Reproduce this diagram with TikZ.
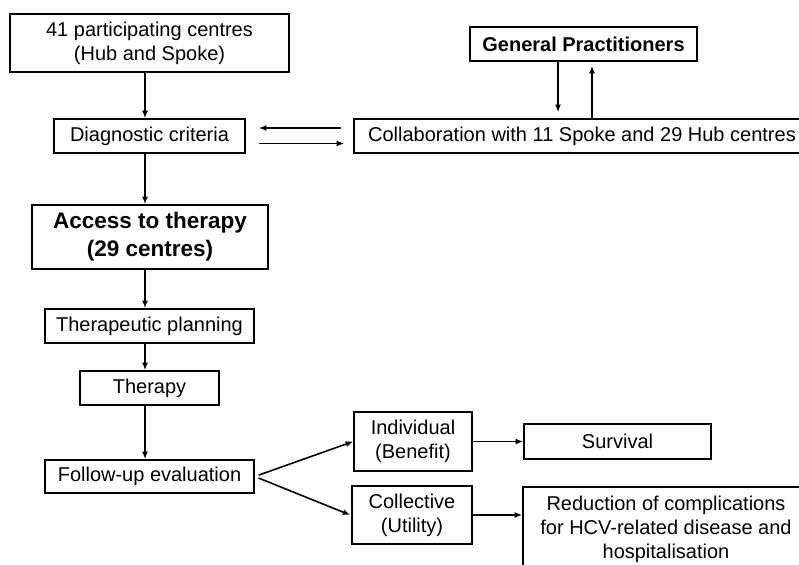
\documentclass[tikz,border=0pt]{standalone}
\usepackage{fontspec}
\setmainfont{Liberation Sans}
\usetikzlibrary{arrows.meta}
\begin{document}
\begin{tikzpicture}[x=1pt,y=-1pt,line width=1.6pt,>={Latex[length=7.5pt,width=6pt]},
	box/.style={draw,align=center,inner sep=0pt,font=\fontsize{20}{24}\selectfont},
	bigbox/.style={box,font=\fontsize{22.5}{28}\selectfont\bfseries}]
	\useasboundingbox (0,0) rectangle (799,564);
	\clip (0,0) rectangle (799,564);
	% left column
	\node[box,minimum width=279pt,minimum height=58pt] (centres) at (149.5,43) {41 participating centres\\(Hub and Spoke)};
	\node[box,minimum width=191pt,minimum height=34pt] (diag) at (149.5,136) {Diagnostic criteria};
	\node[bigbox,minimum width=236pt,minimum height=64pt] (access) at (150,237) {Access to therapy\\(29 centres)};
	\node[box,minimum width=209pt,minimum height=34pt] (plan) at (149.5,326) {Therapeutic planning};
	\node[box,minimum width=139pt,minimum height=34pt] (therapy) at (149.5,388) {Therapy};
	\node[box,minimum width=209pt,minimum height=33pt] (follow) at (149.5,476.5) {Follow-up evaluation};
	% right part
	\node[box,minimum width=456pt,minimum height=34pt] (collab) at (582,136) {Collaboration with 11 Spoke and 29 Hub centres};
	\node[box,font=\fontsize{20}{24}\selectfont\bfseries,minimum width=227pt,minimum height=34pt] (gp) at (583.5,44) {General Practitioners};
	\node[box,minimum width=118pt,minimum height=59pt] (indiv) at (413,441.5) {Individual\\(Benefit)};
	\node[box,minimum width=120pt,minimum height=58pt] (coll) at (412,515) {Collective\\(Utility)};
	\node[box,minimum width=187pt,minimum height=35pt] (surv) at (617.5,441.5) {Survival};
	\node[box,anchor=north,minimum width=286pt,inner ysep=9.5pt] (reduc) at (666,486) {Reduction of complications\\for HCV-related disease and\\hospitalisation};
	% connectors
	\draw[->] ([xshift=-4.5pt]centres.south) -- ([xshift=-4.5pt]diag.north);
	\draw[->] ([xshift=-4.5pt]diag.south) -- ([xshift=-5pt]access.north);
	\draw[->] ([xshift=-5pt]access.south) -- ([xshift=-4.5pt]plan.north);
	\draw[->] ([xshift=-4.5pt]plan.south) -- ([xshift=-4.5pt]therapy.north);
	\draw[->] ([xshift=-4.5pt]therapy.south) -- ([xshift=-4.5pt]follow.north);
	\draw[->] ([xshift=-12pt,yshift=8pt]collab.west) -- ([xshift=13pt,yshift=8pt]diag.east);
	\draw[->] ([xshift=13pt,yshift=-7.5pt]diag.east) -- ([xshift=-9pt,yshift=-7.5pt]collab.west);
	\draw[->,shorten >=6pt] ([xshift=-25.5pt]gp.south) -- ([xshift=-25.5pt]gp.south |- collab.north);
	\draw[->,shorten >=4pt] ([xshift=8.5pt]gp.south |- collab.north) -- ([xshift=8.5pt]gp.south);
	\draw[->,shorten <=4pt] (follow.east) -- (indiv.west);
	\draw[->,shorten <=4pt] (follow.east) -- ([xshift=-1pt]coll.west);
	\draw[->] (indiv.east) -- (indiv.east -| surv.west);
	\draw[->] (coll.east) -- (coll.east -| reduc.west);
\end{tikzpicture}
\end{document}
